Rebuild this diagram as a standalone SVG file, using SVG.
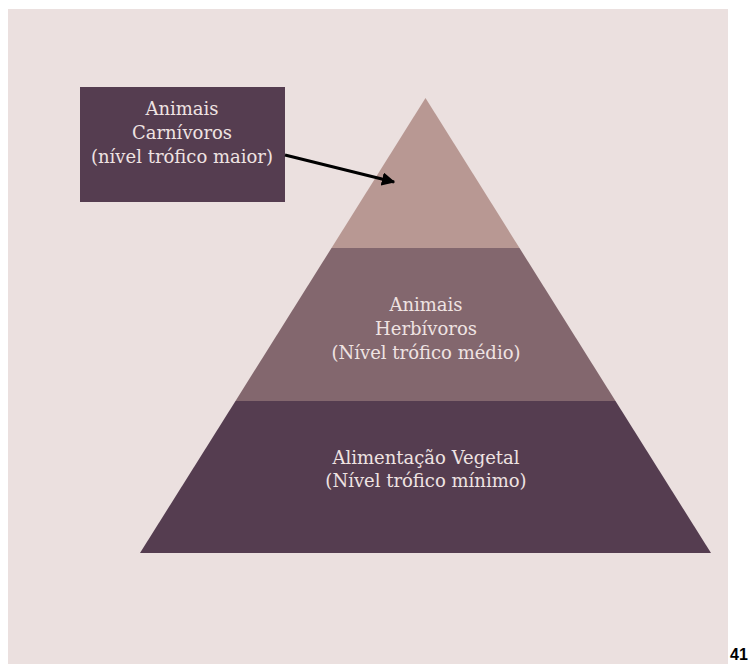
<svg xmlns="http://www.w3.org/2000/svg" width="750" height="664" viewBox="0 0 750 664">
<style>
.t{font-family:"DejaVu Serif",serif;font-size:18px;fill:#efe3e2;text-anchor:middle}
.n{font-family:"Liberation Sans",Arial,sans-serif;font-size:16px;font-weight:bold;fill:#000}
</style>
<defs>
<marker id="ah" viewBox="0 0 10 10" refX="9" refY="5" markerWidth="4.5" markerHeight="4.5" orient="auto" markerUnits="strokeWidth">
<path d="M0,0 L10,5 L0,10 Z" fill="#000"/>
</marker>
</defs>
<rect width="750" height="664" fill="#ffffff"/>
<rect x="8" y="9" width="720" height="655" fill="#ebe0df"/>
<g id="top-level">
<polygon points="425.5,98 519.5,248 331.5,248" fill="#b89893"/>
</g>
<g id="middle-level">
<polygon points="331.5,248 519.5,248 615.5,401 235.5,401" fill="#83676e"/>
<text class="t" x="426" y="311">Animais</text>
<text class="t" x="426" y="335">Herbívoros</text>
<text class="t" x="426" y="359">(Nível trófico médio)</text>
</g>
<g id="bottom-level">
<polygon points="235.5,401 615.5,401 711,553 140,553" fill="#553d50"/>
<text class="t" x="426" y="464">Alimentação Vegetal</text>
<text class="t" x="426" y="487">(Nível trófico mínimo)</text>
</g>
<g id="carnivores-box">
<rect x="80" y="87" width="205" height="115" fill="#553d50"/>
<text class="t" x="182" y="115">Animais</text>
<text class="t" x="182" y="139">Carnívoros</text>
<text class="t" x="182" y="163">(nível trófico maior)</text>
</g>
<g id="connectors">
<line x1="285" y1="155" x2="394" y2="182" stroke="#000" stroke-width="3" marker-end="url(#ah)"/>
</g>
<text class="n" x="730" y="660">41</text>
</svg>
